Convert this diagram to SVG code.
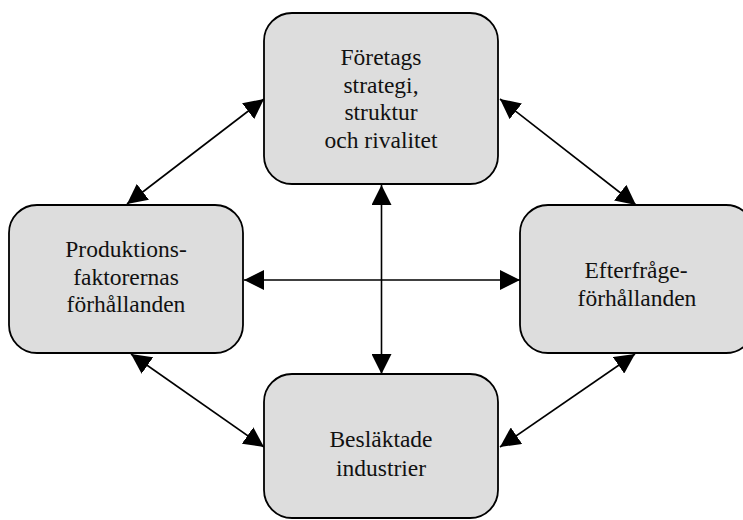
<svg xmlns="http://www.w3.org/2000/svg" width="743" height="520" viewBox="0 0 743 520">
<style>
.box{fill:#dddddd;stroke:#000;stroke-width:1.8}
.lbl{font-family:"Liberation Serif","Times New Roman",serif;font-size:23.5px;fill:#111;text-anchor:middle}
.conn{stroke:#000;stroke-width:1.6;fill:none;marker-start:url(#ah);marker-end:url(#ah)}
</style>
<defs>
<marker id="ah" viewBox="0 0 20 20" refX="20" refY="10" markerWidth="20" markerHeight="20" markerUnits="userSpaceOnUse" orient="auto-start-reverse">
<path d="M0,0 L20,10 L0,20 z" fill="#000"/>
</marker>
</defs>
<rect width="743" height="520" fill="#fff"/>
<g id="connectors">
<line class="conn" x1="127" y1="204" x2="264" y2="99"/>
<line class="conn" x1="500" y1="99" x2="636" y2="205"/>
<line class="conn" x1="381.5" y1="185" x2="381.5" y2="374"/>
<line class="conn" x1="244" y1="280" x2="520" y2="280"/>
<line class="conn" x1="131" y1="354" x2="264" y2="447"/>
<line class="conn" x1="635" y1="354" x2="500" y2="447"/>
</g>
<g id="node-top">
<rect class="box" x="264" y="13" width="234" height="171" rx="28"/>
<text class="lbl" x="381" y="65">Företags</text>
<text class="lbl" x="381" y="92.5">strategi,</text>
<text class="lbl" x="381" y="120">struktur</text>
<text class="lbl" x="381" y="147.5">och rivalitet</text>
</g>
<g id="node-left">
<rect class="box" x="9" y="205" width="234" height="148" rx="28"/>
<text class="lbl" x="126" y="257">Produktions-</text>
<text class="lbl" x="126" y="285">faktorernas</text>
<text class="lbl" x="126" y="312">förhållanden</text>
</g>
<g id="node-right">
<rect class="box" x="520" y="205" width="234" height="148" rx="28"/>
<text class="lbl" x="636" y="278">Efterfråge-</text>
<text class="lbl" x="637" y="306">förhållanden</text>
</g>
<g id="node-bottom">
<rect class="box" x="264" y="374" width="234" height="144" rx="28"/>
<text class="lbl" x="381" y="447">Besläktade</text>
<text class="lbl" x="381" y="476">industrier</text>
</g>
</svg>
